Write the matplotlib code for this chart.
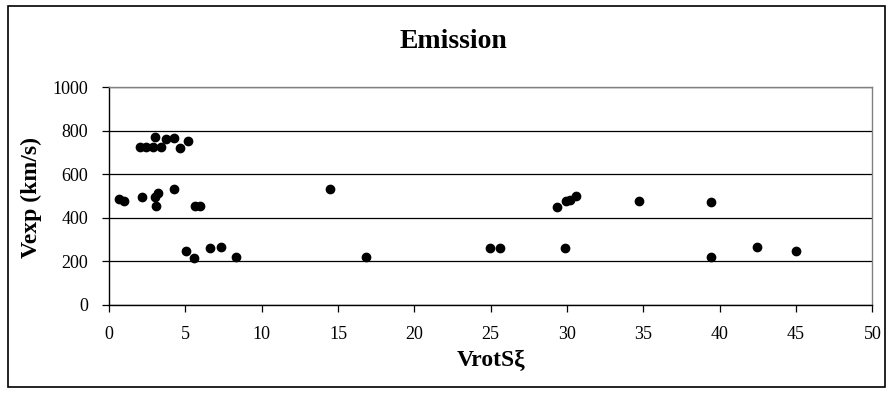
import matplotlib.pyplot as plt
from matplotlib.patches import Rectangle

plt.rcParams['font.family'] = ['Liberation Serif', 'DejaVu Serif']

# VrotS-xi vs expansion velocity
vrot = [2.0, 2.45, 2.88, 3.43, 3.04, 3.76, 4.24, 4.63, 5.17,
        0.64, 0.96, 2.14, 3.0, 3.21, 3.1, 4.24, 5.61, 5.94,
        5.07, 5.55, 6.6, 7.36, 8.3, 14.45, 16.86, 24.98, 25.63,
        29.34, 29.9, 30.2, 30.56, 29.84, 34.69, 39.45, 39.45, 42.42, 45.02]
vexp = [728, 728, 728, 728, 774, 763, 768, 721, 755,
        486, 480, 495, 495, 513, 455, 532, 457, 457,
        250, 215, 263, 268, 219, 532, 219, 263, 263,
        451, 480, 482, 501, 263, 480, 474, 219, 268, 248]

xticks = [0, 5, 10, 15, 20, 25, 30, 35, 40, 45, 50]
yticks = [0, 200, 400, 600, 800, 1000]

fig = plt.figure(figsize=(8.96, 3.94), dpi=100)
ax = fig.add_axes([0.1217, 0.226, 0.852, 0.552])

ax.plot(vrot, vexp, 'o', color='black', markersize=6, linestyle='none', zorder=3)

ax.set_xlim(0, 50)
ax.set_ylim(0, 1000)
ax.set_xticks(xticks)
ax.set_yticks(yticks)
ax.grid(True, axis='y', color='black', linewidth=0.9)
ax.tick_params(labelsize=13, length=5, width=0.9, direction='out', pad=10)
for s in ['left', 'bottom']:
    ax.spines[s].set_color('black')
    ax.spines[s].set_linewidth(1)
for s in ['top', 'right']:
    ax.spines[s].set_color('#808080')
    ax.spines[s].set_linewidth(1)

ax.set_xlabel('VrotSξ', fontsize=17, fontweight='bold', labelpad=5)
fig.text(0.035, 0.5, 'Vexp (km/s)', fontsize=17, fontweight='bold',
         rotation=90, ha='center', va='center')
fig.text(0.506, 0.894, 'Emission', fontsize=20, fontweight='bold',
         ha='center', va='center')

fig.patches.append(Rectangle((8 / 896, 1 - 387 / 394), 877 / 896, 381 / 394,
                             transform=fig.transFigure, fill=False,
                             edgecolor='black', linewidth=1.2))

fig.savefig('out.png', dpi=100)
